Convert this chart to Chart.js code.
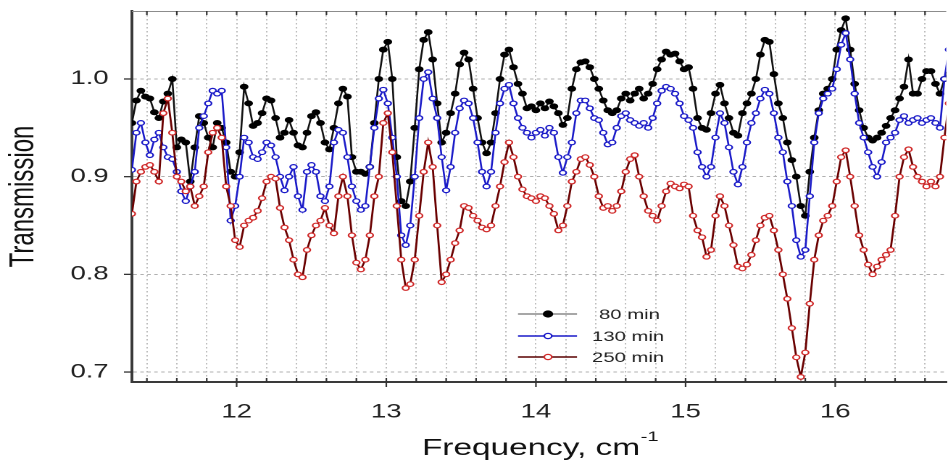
<!DOCTYPE html>
<html><head><meta charset="utf-8">
<script src="https://cdn.jsdelivr.net/npm/chart.js@4.4.1/dist/chart.umd.min.js"></script>
<style>
html,body{margin:0;padding:0;background:#fff;overflow:hidden;width:948px;height:463px;}
#wrap{position:absolute;left:0;top:0;width:658px;height:463px;transform:scaleX(1.4495);transform-origin:0 0;}
</style></head><body>
<div id="wrap"><canvas id="c"></canvas></div>
<script>
const SX = 1.4495;
const frequency = [
11.30,11.33,11.36,11.39,11.42,11.45,11.48,11.51,11.54,11.57,
11.60,11.63,11.66,11.69,11.72,11.75,11.78,11.81,11.84,11.87,
11.90,11.93,11.96,11.99,12.02,12.05,12.08,12.11,12.14,12.17,
12.20,12.23,12.26,12.29,12.32,12.35,12.38,12.41,12.44,12.47,
12.50,12.53,12.56,12.59,12.62,12.65,12.68,12.71,12.74,12.77,
12.80,12.83,12.86,12.89,12.92,12.95,12.98,13.01,13.04,13.07,
13.10,13.13,13.16,13.19,13.22,13.25,13.28,13.31,13.34,13.37,
13.40,13.43,13.46,13.49,13.52,13.55,13.58,13.61,13.64,13.67,
13.70,13.73,13.76,13.79,13.82,13.85,13.88,13.91,13.94,13.97,
14.00,14.03,14.06,14.09,14.12,14.15,14.18,14.21,14.24,14.27,
14.30,14.33,14.36,14.39,14.42,14.45,14.48,14.51,14.54,14.57,
14.60,14.63,14.66,14.69,14.72,14.75,14.78,14.81,14.84,14.87,
14.90,14.93,14.96,14.99,15.02,15.05,15.08,15.11,15.14,15.17,
15.20,15.23,15.26,15.29,15.32,15.35,15.38,15.41,15.44,15.47,
15.50,15.53,15.56,15.59,15.62,15.65,15.68,15.71,15.74,15.77,
15.80,15.83,15.86,15.89,15.92,15.95,15.98,16.01,16.04,16.07,
16.10,16.13,16.16,16.19,16.22,16.25,16.28,16.31,16.34,16.37,
16.40,16.43,16.46,16.49,16.52,16.55,16.58,16.61,16.64,16.67,
16.70,16.73,16.76];
const series80 = [
0.955,0.978,0.988,0.982,0.980,0.966,0.960,0.977,0.985,1.000,
0.930,0.938,0.935,0.895,0.930,0.962,0.955,0.940,0.930,0.955,
0.950,0.935,0.905,0.900,0.925,0.992,0.975,0.952,0.955,0.965,
0.980,0.978,0.960,0.940,0.945,0.958,0.945,0.932,0.930,0.945,
0.962,0.966,0.955,0.935,0.928,0.950,0.975,0.990,0.982,0.920,
0.905,0.905,0.903,0.910,0.955,1.000,1.030,1.038,1.000,0.920,
0.875,0.870,0.895,0.950,1.010,1.040,1.048,1.020,0.975,0.935,
0.945,0.965,0.985,1.015,1.027,1.020,0.990,0.960,0.935,0.924,
0.935,0.965,1.000,1.025,1.030,1.012,0.995,0.985,0.970,0.972,
0.968,0.975,0.970,0.977,0.972,0.965,0.953,0.960,0.990,1.010,
1.017,1.018,1.012,1.000,0.990,0.978,0.968,0.965,0.968,0.980,
0.985,0.978,0.985,0.990,0.980,0.985,0.995,1.010,1.020,1.028,
1.025,1.026,1.018,1.010,1.012,0.990,0.960,0.950,0.948,0.965,
0.985,0.994,0.975,0.960,0.945,0.942,0.965,0.975,0.985,1.000,
1.025,1.040,1.038,1.005,0.975,0.960,0.935,0.917,0.900,0.870,
0.860,0.905,0.940,0.968,0.985,0.990,1.000,1.030,1.050,1.062,
1.030,0.995,0.968,0.950,0.940,0.937,0.940,0.945,0.952,0.960,
0.968,0.980,0.992,1.020,0.985,0.985,1.000,1.008,1.008,0.995,
0.985,1.000,1.005];
const series130 = [
0.907,0.945,0.955,0.935,0.922,0.938,0.945,0.930,0.920,0.918,
0.905,0.885,0.875,0.890,0.905,0.950,0.962,0.975,0.988,0.985,
0.988,0.930,0.855,0.870,0.900,0.940,0.935,0.920,0.918,0.925,
0.935,0.932,0.920,0.900,0.886,0.900,0.910,0.880,0.866,0.905,
0.912,0.905,0.880,0.875,0.890,0.935,0.948,0.945,0.920,0.890,
0.875,0.866,0.870,0.910,0.950,0.980,0.989,0.975,0.940,0.900,
0.840,0.830,0.850,0.900,0.960,1.000,1.007,0.980,0.960,0.920,
0.886,0.910,0.945,0.970,0.978,0.975,0.960,0.935,0.905,0.890,
0.905,0.945,0.975,0.990,0.994,0.975,0.960,0.950,0.945,0.940,
0.945,0.948,0.942,0.950,0.945,0.920,0.904,0.920,0.935,0.965,
0.978,0.978,0.970,0.960,0.958,0.945,0.933,0.935,0.950,0.962,
0.965,0.958,0.955,0.952,0.955,0.950,0.960,0.975,0.988,0.992,
0.990,0.985,0.975,0.962,0.958,0.950,0.925,0.910,0.900,0.910,
0.940,0.965,0.955,0.930,0.905,0.892,0.910,0.935,0.955,0.965,
0.980,0.989,0.985,0.965,0.940,0.925,0.895,0.870,0.835,0.818,
0.825,0.880,0.935,0.965,0.980,0.985,0.990,1.010,1.035,1.047,
1.020,0.985,0.955,0.940,0.925,0.910,0.900,0.915,0.935,0.940,
0.945,0.958,0.962,0.955,0.958,0.960,0.955,0.958,0.960,0.955,
0.950,1.000,1.030];
const series250 = [
0.862,0.895,0.905,0.910,0.912,0.905,0.895,0.965,0.980,0.945,
0.900,0.895,0.885,0.890,0.870,0.880,0.890,0.925,0.945,0.950,
0.940,0.890,0.870,0.835,0.828,0.850,0.855,0.858,0.865,0.878,
0.895,0.900,0.898,0.868,0.848,0.835,0.815,0.800,0.797,0.825,
0.840,0.850,0.855,0.868,0.850,0.842,0.880,0.900,0.880,0.840,
0.812,0.805,0.815,0.840,0.880,0.900,0.955,0.965,0.925,0.870,
0.815,0.786,0.790,0.815,0.860,0.905,0.935,0.910,0.850,0.792,
0.800,0.815,0.832,0.845,0.870,0.868,0.860,0.855,0.848,0.846,
0.850,0.870,0.890,0.915,0.935,0.920,0.900,0.887,0.880,0.878,
0.875,0.880,0.878,0.870,0.862,0.845,0.850,0.870,0.895,0.905,
0.918,0.920,0.912,0.900,0.880,0.868,0.870,0.865,0.870,0.885,
0.905,0.918,0.922,0.900,0.880,0.865,0.860,0.855,0.870,0.885,
0.893,0.890,0.888,0.892,0.890,0.860,0.845,0.838,0.818,0.825,
0.860,0.880,0.870,0.850,0.830,0.808,0.806,0.810,0.820,0.835,
0.850,0.858,0.860,0.845,0.825,0.800,0.775,0.745,0.715,0.695,
0.720,0.770,0.815,0.840,0.855,0.860,0.870,0.895,0.920,0.927,
0.900,0.870,0.840,0.825,0.810,0.800,0.808,0.815,0.820,0.825,
0.860,0.900,0.920,0.928,0.910,0.900,0.895,0.890,0.895,0.890,
0.900,0.940,0.975];
const seriesLabels = ['80 min', '130 min', '250 min'];
const xTickLabels = [12, 13, 14, 15, 16];
const yTickLabels = [0.7, 0.8, 0.9, 1.0];

const FONT = '"Liberation Sans", Arial, Helvetica, sans-serif';
const toPts = arr => frequency.map((f, i) => ({x: f, y: arr[i]}));

const legendStyle = [
  {line: '#8a8a8a', fill: '#000', stroke: '#000', r: 3.0},
  {line: '#1a1ac8', fill: '#fff', stroke: '#1a1ac8', r: 2.6},
  {line: '#5a0000', fill: '#fff', stroke: '#d02a2a', r: 2.6}
];

const framePlugin = {
  id: 'frame',
  beforeDatasetsDraw(chart) {
    const {ctx, chartArea: a, scales: {x, y}} = chart;
    ctx.save();
    ctx.strokeStyle = '#8c8c8c'; ctx.lineWidth = 1;
    ctx.beginPath(); ctx.moveTo(a.left, a.top + 0.5); ctx.lineTo(a.right, a.top + 0.5); ctx.stroke();
    ctx.strokeStyle = '#333'; ctx.lineWidth = 1.1;
    x.ticks.forEach(t => {
      const px = x.getPixelForValue(t.value);
      const major = Math.abs(t.value - Math.round(t.value)) < 1e-6 && xTickLabels.includes(Math.round(t.value));
      ctx.beginPath();
      ctx.moveTo(px, a.bottom - 4);
      ctx.lineTo(px, a.bottom + (major ? 5 : 0));
      ctx.moveTo(px, a.top);
      ctx.lineTo(px, a.top + 4);
      ctx.stroke();
    });
    ctx.lineWidth = 1.3;
    y.ticks.forEach(t => {
      const py = y.getPixelForValue(t.value);
      ctx.beginPath(); ctx.moveTo(a.left - 5.5, py); ctx.lineTo(a.left, py); ctx.stroke();
    });
    ctx.restore();
  },
  afterDatasetsDraw(chart) {
    const ctx = chart.ctx;
    const rows = [314, 336, 357];
    const x1 = 518 / SX, x2 = 577 / SX, xm = 548 / SX;
    const xt = [599 / SX, 592 / SX, 592 / SX];
    ctx.save();
    seriesLabels.forEach((lab, i) => {
      const s = legendStyle[i];
      const yy = rows[i];
      ctx.strokeStyle = s.line; ctx.lineWidth = 1.5;
      ctx.beginPath(); ctx.moveTo(x1, yy); ctx.lineTo(x2, yy); ctx.stroke();
      ctx.beginPath(); ctx.arc(xm, yy, s.r, 0, Math.PI * 2);
      ctx.fillStyle = s.fill; ctx.fill();
      ctx.strokeStyle = s.stroke; ctx.lineWidth = 1.2; ctx.stroke();
      ctx.fillStyle = '#222';
      ctx.font = '14px ' + FONT;
      ctx.textBaseline = 'middle'; ctx.textAlign = 'left';
      ctx.fillText(lab, xt[i], yy + 1);
    });
    ctx.restore();
  },
  afterDraw(chart) {
    const ctx = chart.ctx;
    ctx.save();
    ctx.fillStyle = '#111';
    const main = 'Frequency, cm', sup = '-1';
    ctx.font = '23px ' + FONT;
    const w1 = ctx.measureText(main).width;
    ctx.font = '14px ' + FONT;
    const w2 = ctx.measureText(sup).width;
    const start = 540 / SX - (w1 + w2) / 2;
    ctx.textBaseline = 'alphabetic'; ctx.textAlign = 'left';
    ctx.font = '23px ' + FONT;
    ctx.fillText(main, start, 455);
    ctx.font = '14px ' + FONT;
    ctx.fillText(sup, start + w1 + 0.5, 441);
    ctx.restore();
  }
};

new Chart(document.getElementById('c'), {
  type: 'line',
  data: {
    datasets: [
      {label: seriesLabels[0], data: toPts(series80), borderColor: '#111', borderWidth: 1.3,
       pointRadius: 2.6, pointBackgroundColor: '#000', pointBorderColor: '#000', pointBorderWidth: 0.8,
       tension: 0, order: 3},
      {label: seriesLabels[1], data: toPts(series130), borderColor: '#1a1ac8', borderWidth: 1.3,
       pointRadius: 2.3, pointBackgroundColor: '#fff', pointBorderColor: '#1a1ac8', pointBorderWidth: 1.2,
       tension: 0, order: 2},
      {label: seriesLabels[2], data: toPts(series250), borderColor: '#6a0000', borderWidth: 1.4,
       pointRadius: 2.3, pointBackgroundColor: '#fff', pointBorderColor: '#d02a2a', pointBorderWidth: 1.2,
       tension: 0, order: 1}
    ]
  },
  options: {
    responsive: true, maintainAspectRatio: false, animation: false, devicePixelRatio: 2,
    layout: {padding: {left: 0, right: 0, top: 11, bottom: 0}},
    plugins: {legend: {display: false}, tooltip: {enabled: false}},
    scales: {
      x: {
        type: 'linear', min: 11.30, max: 16.742,
        ticks: {stepSize: 0.2, includeBounds: false, autoSkip: false, maxRotation: 0, minRotation: 0,
          padding: 19, color: '#222', font: {family: FONT, size: 19},
          callback: v => {
            const r = Math.round(v);
            return (Math.abs(v - r) < 1e-6 && xTickLabels.includes(r)) ? String(r) : '';
          }},
        grid: {color: '#bdbdbd', lineWidth: 1, drawTicks: false},
        border: {display: true, color: '#3a3a3a', width: 2, dash: [1.5, 2.5]},
        afterFit: s => { s.height = 81; s.paddingLeft = 0; s.paddingRight = 0; }
      },
      y: {
        type: 'linear', min: 0.6898, max: 1.0696,
        ticks: {stepSize: 0.1, includeBounds: false, padding: 16, color: '#222', font: {family: FONT, size: 19},
          callback: v => {
            const r = Math.round(v * 10) / 10;
            return yTickLabels.some(t => Math.abs(t - r) < 1e-6) ? r.toFixed(1) : '';
          }},
        grid: {color: '#b0b0b0', lineWidth: 1, drawTicks: false},
        border: {display: true, color: '#3a3a3a', width: 2, dash: [2.4, 2.4]},
        title: {display: true, text: 'Transmission', color: '#111', font: {family: FONT, size: 24}, padding: {top: 2, bottom: 0}},
        afterFit: s => { s.width = 91; s.paddingTop = 0; s.paddingBottom = 0; }
      }
    }
  },
  plugins: [framePlugin]
});
</script>
</body></html>
